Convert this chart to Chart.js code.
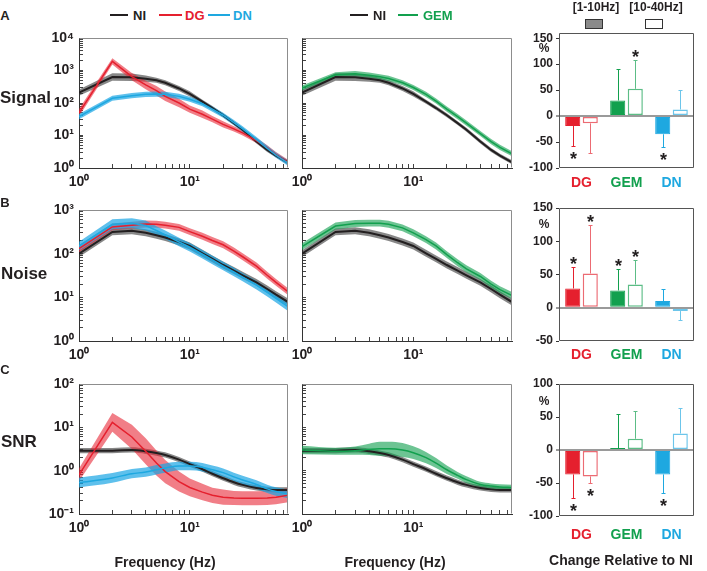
<!DOCTYPE html>
<html><head><meta charset="utf-8">
<script src="https://cdn.jsdelivr.net/npm/chart.js@4.4.1/dist/chart.umd.min.js"></script>
<style>
html,body{margin:0;padding:0;background:#fff}
body{width:707px;height:571px;position:relative;overflow:hidden;font-family:"Liberation Sans",Arial,Helvetica,sans-serif;font-weight:bold;color:#231f20}
canvas{position:absolute}
.t{position:absolute;white-space:nowrap;line-height:1}
.seg{position:absolute;height:2px}
.sw{position:absolute;box-sizing:border-box;border:1px solid #333}
</style></head><body>
<script>
// ---------- DATA ----------
const freq = [1,2,3,4,5,6,8,10,13,16,20,25,30,40,50,60,77];

// Signal
const sigNI  = [210,630,620,560,500,420,280,190,110,70,42,24,15,6.5,3.6,2.4,1.5];
const sigDG  = [50,1900,650,360,240,160,100,65,45,32,22,16,12,7,4.2,2.6,1.5];
const sigDN  = [38,140,168,185,188,185,160,130,95,65,42,25,16,7.5,4,2.5,1.4];
const sigGEM = [290,740,800,720,640,570,420,300,185,115,65,38,24,11.5,6.5,4.3,2.75];
const sigNIband  = [1.25,1.3,1.3,1.25,1.2,1.2,1.2,1.2,1.15,1.15,1.15,1.15,1.15,1.15,1.15,1.15,1.15];
const sigDGband  = [1.3,1.25,1.3,1.35,1.4,1.4,1.35,1.3,1.3,1.25,1.25,1.2,1.2,1.2,1.2,1.2,1.2];
const sigDNband  = [1.2,1.2,1.2,1.2,1.2,1.2,1.2,1.2,1.2,1.2,1.2,1.2,1.2,1.2,1.2,1.2,1.2];
const sigGEMband = [1.2,1.2,1.2,1.2,1.2,1.2,1.2,1.2,1.2,1.2,1.2,1.2,1.2,1.2,1.2,1.2,1.2];

// Noise
const noiNI  = [100,315,335,300,265,235,185,150,102,76,55,41,32,22,15.5,11.5,7.8];
const noiDG  = [130,410,450,480,470,450,400,320,250,200,160,115,85,52,32,22,13.5];
const noiDN  = [150,470,500,440,340,270,185,140,97,72,52,38,29,19,13,9.5,6.1];
const noiGEM = [145,430,490,500,500,470,390,300,210,150,95,62,45,30,20,15,11];
const noiNIband  = [1.2,1.2,1.2,1.2,1.2,1.2,1.2,1.2,1.2,1.2,1.2,1.2,1.2,1.2,1.2,1.2,1.2];
const noiDGband  = [1.2,1.2,1.2,1.2,1.2,1.2,1.2,1.2,1.2,1.2,1.2,1.2,1.2,1.2,1.2,1.2,1.2];
const noiDNband  = [1.25,1.3,1.3,1.3,1.25,1.25,1.25,1.25,1.25,1.25,1.25,1.25,1.25,1.25,1.25,1.25,1.25];
const noiGEMband = [1.2,1.2,1.2,1.2,1.2,1.2,1.2,1.2,1.2,1.2,1.2,1.2,1.2,1.2,1.2,1.2,1.2];

// SNR
const snrNI  = [2.9,2.9,3.0,2.8,2.55,2.3,1.8,1.42,1.08,0.85,0.67,0.54,0.47,0.40,0.37,0.36,0.36];
const snrDG  = [0.8,13,6.0,2.8,1.5,0.95,0.56,0.41,0.32,0.27,0.245,0.235,0.23,0.23,0.235,0.245,0.27];
const snrDN  = [0.53,0.68,0.85,0.93,1.05,1.15,1.28,1.28,1.2,1.05,0.9,0.72,0.61,0.48,0.38,0.33,0.29];
const snrGEM = [3.0,2.8,2.9,3.1,3.2,3.2,3.0,2.6,2.0,1.5,1.05,0.78,0.62,0.48,0.44,0.42,0.41];
const snrNIband  = [1.15,1.15,1.15,1.15,1.15,1.15,1.15,1.15,1.15,1.15,1.15,1.15,1.15,1.15,1.15,1.15,1.15];
const snrDGband  = [1.4,1.65,1.9,2.0,1.95,1.85,1.7,1.6,1.55,1.5,1.5,1.45,1.45,1.45,1.45,1.45,1.45];
const snrDNband  = [1.3,1.3,1.28,1.28,1.28,1.28,1.25,1.25,1.25,1.25,1.25,1.25,1.25,1.25,1.25,1.25,1.25];
const snrGEMband = [1.25,1.2,1.25,1.35,1.45,1.45,1.45,1.4,1.35,1.3,1.25,1.2,1.2,1.15,1.15,1.15,1.15];

// Tick labels
const xLabels   = ['10\u2070','10\u00b9'];
const sigYLabels = ['10\u2070','10\u00b9','10\u00b2','10\u00b3','10\u2074'];
const noiYLabels = ['10\u2070','10\u00b9','10\u00b2','10\u00b3'];
const snrYLabels = ['10\u207b\u00b9','10\u2070','10\u00b9','10\u00b2'];

// Bar charts (% change relative to NI)
const cats = ['DG','GEM','DN'];
const sigLow  = [-19, 30, -35];   const sigLowErr  = [38, 60, 24.5]; const sigLowStar  = [1,0,1];
const sigHigh = [-14, 52.5, 12.7]; const sigHighErr = [56.5, 55, 38]; const sigHighStar = [0,1,0];
const noiLow  = [29, 26, 10];     const noiLowErr  = [32.5, 32, 17.5]; const noiLowStar = [1,1,0];
const noiHigh = [51.5, 35, -5];   const noiHighErr = [73.5, 37.5, 13.5]; const noiHighStar = [1,1,0];
const snrLow  = [-37, 3, -37];    const snrLowErr  = [35, 51.5, 27.6]; const snrLowStar = [1,0,1];
const snrHigh = [-40, 17, 25];    const snrHighErr = [10.5, 42.6, 38]; const snrHighStar = [1,0,0];
const sigBarTicks = [-100,-50,0,50,100,150];
const noiBarTicks = [-50,0,50,100,150];
const snrBarTicks = [-100,-50,0,50,100];

// ---------- STYLE ----------
const BLACK='#231f20', RED='#e5202e', GREEN='#12a04e', BLUE='#1ea8e0';
const RED_L='#ec6b73', GREEN_L='#5cbd86', BLUE_L='#6cc5ea';
const BAND={NI:'rgba(50,50,50,0.58)', DG:'rgba(232,40,55,0.6)', DN:'rgba(25,165,228,0.7)', GEM:'rgba(20,160,80,0.62)'};
const catColors=[RED,GREEN,BLUE], catLight=[RED_L,GREEN_L,BLUE_L];
const FONT='"Liberation Sans", Arial, Helvetica, sans-serif';

Chart.defaults.font.family=FONT;
Chart.defaults.font.weight='bold';
Chart.defaults.color=BLACK;

function canvasAt(l,t,w,h){
  const c=document.createElement('canvas');
  c.width=w;c.height=h;c.style.left=l+'px';c.style.top=t+'px';c.style.width=w+'px';c.style.height=h+'px';
  document.body.appendChild(c);return c;
}
function T(s,x,y,size,color,anchor){
  const d=document.createElement('div');d.className='t';d.textContent=s;
  d.style.fontSize=size+'px';d.style.color=color||BLACK;d.style.left=x+'px';d.style.top=y+'px';
  d.style.transform=anchor==='l'?'translate(0,-50%)':'translate(-50%,-50%)';
  document.body.appendChild(d);
}
function seg(x1,x2,y,color){
  const d=document.createElement('div');d.className='seg';d.style.left=x1+'px';d.style.width=(x2-x1)+'px';
  d.style.top=(y-1)+'px';d.style.background=color;document.body.appendChild(d);
}
function swatch(x,y,w,h,bg){
  const d=document.createElement('div');d.className='sw';d.style.left=x+'px';d.style.top=y+'px';
  d.style.width=w+'px';d.style.height=h+'px';d.style.background=bg;document.body.appendChild(d);
}
function fixer(size){
  return s=>{ if(s.isHorizontal()) s.height=size; else s.width=size;
    s.paddingLeft=0;s.paddingRight=0;s.paddingTop=0;s.paddingBottom=0; };
}
function logTickObjs(min,max,labels){
  const out=[];let k=0;
  for(let d=min; d<=max*1.0001; d=+(d*10).toPrecision(6), k++){
    for(let m=1;m<=9;m++){
      const v=+(m*d).toPrecision(6);
      if(v>max*1.0001) break;
      out.push({value:v, lab: m===1 ? labels[k] : ''});
    }
  }
  return out;
}

const framePlugin={id:'frame',afterDatasetsDraw(ch,args,o){
  const a=ch.chartArea,c=ch.ctx;c.save();c.strokeStyle=o.color||'#888';c.lineWidth=1;c.beginPath();
  const L=Math.round(a.left)+0.5,R=Math.round(a.right)-0.5,Tp=Math.round(a.top)+0.5,B=Math.round(a.bottom)-0.5;
  if(o.all){c.rect(L,Tp,R-L,B-Tp);}else{c.moveTo(L,Tp);c.lineTo(R,Tp);c.lineTo(R,B);}
  c.stroke();c.restore();
}};

const errPlugin={id:'err',afterDatasetsDraw(ch,args,o){
  const c=ch.ctx,ys=ch.scales.y;
  (o.sets||[]).forEach((set,d)=>{
    const meta=ch.getDatasetMeta(d);
    meta.data.forEach((el,i)=>{
      const v=set.v[i],sg=v>=0?1:-1,tip=v+sg*set.e[i];
      const y0=ys.getPixelForValue(v),y1=Math.round(ys.getPixelForValue(tip))+0.5,x=Math.round(el.x)+0.5;
      c.save();c.strokeStyle=set.c[i];c.lineWidth=1;c.beginPath();
      c.moveTo(x,y0);c.lineTo(x,y1);c.moveTo(x-2,y1);c.lineTo(x+2,y1);c.stroke();
      if(set.s[i]){
        c.fillStyle=BLACK;c.font='bold 18px '+FONT;c.textAlign='center';c.textBaseline='alphabetic';
        const yc=y1-sg*8;c.fillText('*',x,yc+10.5);
      }
      c.restore();
    });
  });
}};

function logPanel(a,yr,yLabels,showY,series){
  const PAD=12,YW=showY?40:8,XH=28;
  const W=a.r-a.l+YW+2*PAD,H=a.b-a.t+XH+2*PAD;
  const cv=canvasAt(a.l-YW-PAD,a.t-PAD,W,H);
  const ds=[];
  series.forEach(s=>{
    const common={pointRadius:0,tension:s.smooth?0.4:0,cubicInterpolationMode:s.smooth?'monotone':'default'};
    ds.push(Object.assign({data:freq.map((f,i)=>({x:f,y:s.v[i]*s.b[i]})),borderColor:'rgba(0,0,0,0)',borderWidth:0,
      fill:'+1',backgroundColor:s.band,order:s.ord+10},common));
    ds.push(Object.assign({data:freq.map((f,i)=>({x:f,y:s.v[i]/s.b[i]})),borderColor:'rgba(0,0,0,0)',borderWidth:0,
      fill:false,order:s.ord+10},common));
    ds.push(Object.assign({data:freq.map((f,i)=>({x:f,y:s.v[i]})),borderColor:s.line,borderWidth:s.w,
      fill:false,order:s.ord},common));
  });
  const axisCommon={
    grid:{drawOnChartArea:false,tickLength:-4,tickColor:'#444',tickWidth:1},
    border:{color:'#333',width:1}
  };
  new Chart(cv,{type:'line',data:{datasets:ds},
    options:{responsive:false,animation:false,devicePixelRatio:1,layout:{padding:PAD},
      plugins:{legend:{display:false},tooltip:{enabled:false},frame:{color:'#8d8d8d'}},
      scales:{
        x:Object.assign({type:'logarithmic',min:1,max:77,
          afterBuildTicks:s=>{s.ticks=logTickObjs(1,77,xLabels);},afterFit:fixer(XH),
          ticks:{autoSkip:false,maxRotation:0,minRotation:0,padding:10,font:{size:14,weight:'bold'},color:BLACK,
            callback:(v,i,t)=>t[i].lab}},axisCommon),
        y:Object.assign({type:'logarithmic',min:yr[0],max:yr[1],
          afterBuildTicks:s=>{s.ticks=logTickObjs(yr[0],yr[1],yLabels);},afterFit:fixer(YW),
          ticks:{autoSkip:false,padding:9,font:{size:14,weight:'bold'},color:BLACK,
            callback:(v,i,t)=>showY?t[i].lab:''}},axisCommon)
      }},
    plugins:[framePlugin]});
}

function barPanel(a,yr,yTicks,low,lowErr,lowStar,high,highErr,highStar,labPad){
  const PAD=12,YW=32,XH=36;
  const W=a.r-a.l+YW+2*PAD,H=a.b-a.t+XH+2*PAD;
  const cv=canvasAt(a.l-YW-PAD,a.t-PAD,W,H);
  new Chart(cv,{type:'bar',
    data:{labels:cats,datasets:[
      {label:'[1-10Hz]',data:low,backgroundColor:catColors,borderColor:catColors,borderWidth:1,borderSkipped:false,
        categoryPercentage:0.78,barPercentage:0.86},
      {label:'[10-40Hz]',data:high,backgroundColor:'#ffffff',borderColor:catLight,borderWidth:1.5,borderSkipped:false,
        categoryPercentage:0.78,barPercentage:0.86}
    ]},
    options:{responsive:false,animation:false,devicePixelRatio:1,layout:{padding:PAD},
      plugins:{legend:{display:false},tooltip:{enabled:false},frame:{color:'#555',all:true},
        err:{sets:[{v:low,e:lowErr,s:lowStar,c:catColors},{v:high,e:highErr,s:highStar,c:catLight}]}},
      scales:{
        x:{type:'category',grid:{display:false,drawTicks:false},border:{display:false},afterFit:fixer(XH),
          ticks:{padding:labPad,font:{size:14,weight:'bold'},color:c=>catColors[c.index]}},
        y:{min:yr[0],max:yr[1],afterBuildTicks:s=>{s.ticks=yTicks.map(v=>({value:v}));},afterFit:fixer(YW),
          ticks:{autoSkip:false,padding:3,font:{size:12,weight:'bold'},color:BLACK,callback:v=>String(v)},
          grid:{color:c=>(c.tick&&c.tick.value===0)?'#9a9a9a':'rgba(0,0,0,0)',
                lineWidth:c=>(c.tick&&c.tick.value===0)?2:1,tickColor:'#333',tickWidth:1,tickLength:3},
          border:{display:false}}
      }},
    plugins:[framePlugin,errPlugin]});
}

// ---------- LAYOUT ----------
const LEFT={l:79,r:288}, MID={l:302,r:512}, BAR={l:559,r:694};
const rowA={t:38,b:168}, rowB={t:210,b:341}, rowC={t:384,b:514};
const S=(v,b,line,band,w,ord,smooth)=>({v,b,line,band,w,ord,smooth});

// Row A: Signal
logPanel({...LEFT,...rowA},[1,10000],sigYLabels,true,[
  S(sigNI,sigNIband,BLACK,BAND.NI,2,3),S(sigDG,sigDGband,RED,BAND.DG,1.5,2),S(sigDN,sigDNband,BLUE,BAND.DN,1.5,1)]);
logPanel({...MID,...rowA},[1,10000],sigYLabels,false,[
  S(sigNI,sigNIband,BLACK,BAND.NI,2,3),S(sigGEM,sigGEMband,GREEN,BAND.GEM,1.5,2)]);
barPanel({...BAR,t:33,b:168},[-100,160],sigBarTicks,sigLow,sigLowErr,sigLowStar,sigHigh,sigHighErr,sigHighStar,7);

// Row B: Noise
logPanel({...LEFT,...rowB},[1,1000],noiYLabels,true,[
  S(noiNI,noiNIband,BLACK,BAND.NI,2,3),S(noiDG,noiDGband,RED,BAND.DG,1.5,2),S(noiDN,noiDNband,BLUE,BAND.DN,1.5,1)]);
logPanel({...MID,...rowB},[1,1000],noiYLabels,false,[
  S(noiNI,noiNIband,BLACK,BAND.NI,2,3),S(noiGEM,noiGEMband,GREEN,BAND.GEM,1.5,2)]);
barPanel({...BAR,t:208,b:341},[-50,150],noiBarTicks,noiLow,noiLowErr,noiLowStar,noiHigh,noiHighErr,noiHighStar,6);

// Row C: SNR
logPanel({...LEFT,...rowC},[0.1,100],snrYLabels,true,[
  S(snrNI,snrNIband,BLACK,BAND.NI,2,3,true),S(snrDG,snrDGband,RED,BAND.DG,1.5,2,false),S(snrDN,snrDNband,BLUE,BAND.DN,1.5,1,true)]);
logPanel({...MID,...rowC},[0.1,100],snrYLabels,false,[
  S(snrNI,snrNIband,BLACK,BAND.NI,2,3,true),S(snrGEM,snrGEMband,GREEN,BAND.GEM,1.5,2,true)]);
barPanel({...BAR,t:384,b:516},[-100,100],snrBarTicks,snrLow,snrLowErr,snrLowStar,snrHigh,snrHighErr,snrHighStar,11);

// ---------- TEXT ----------
T('A',5,15,13);T('B',5,202,13);T('C',5,369,13);
T('Signal',0,97,17,BLACK,'l');T('Noise',1,273,17,BLACK,'l');T('SNR',1,441,17,BLACK,'l');
seg(110,128,15,BLACK);T('NI',133,15,13,BLACK,'l');
seg(159,182,15,RED);T('DG',185,15,13,RED,'l');
seg(208,230,15,BLUE);T('DN',233,15,13,BLUE,'l');
seg(350,368,15,BLACK);T('NI',373,15,13,BLACK,'l');
seg(398,418,15,GREEN);T('GEM',423,15,13,GREEN,'l');
T('[1-10Hz]',596,7,12);T('[10-40Hz]',656,7,12);
swatch(585,19,18,10,'#8a8a8a');swatch(645,19,18,10,'#ffffff');
T('%',544,48,12);T('%',544,224,12);T('%',544,401,12);
T('Frequency (Hz)',165,562,14);T('Frequency (Hz)',395,562,14);
T('Change Relative to NI',621,560,14);
</script>
</body></html>
